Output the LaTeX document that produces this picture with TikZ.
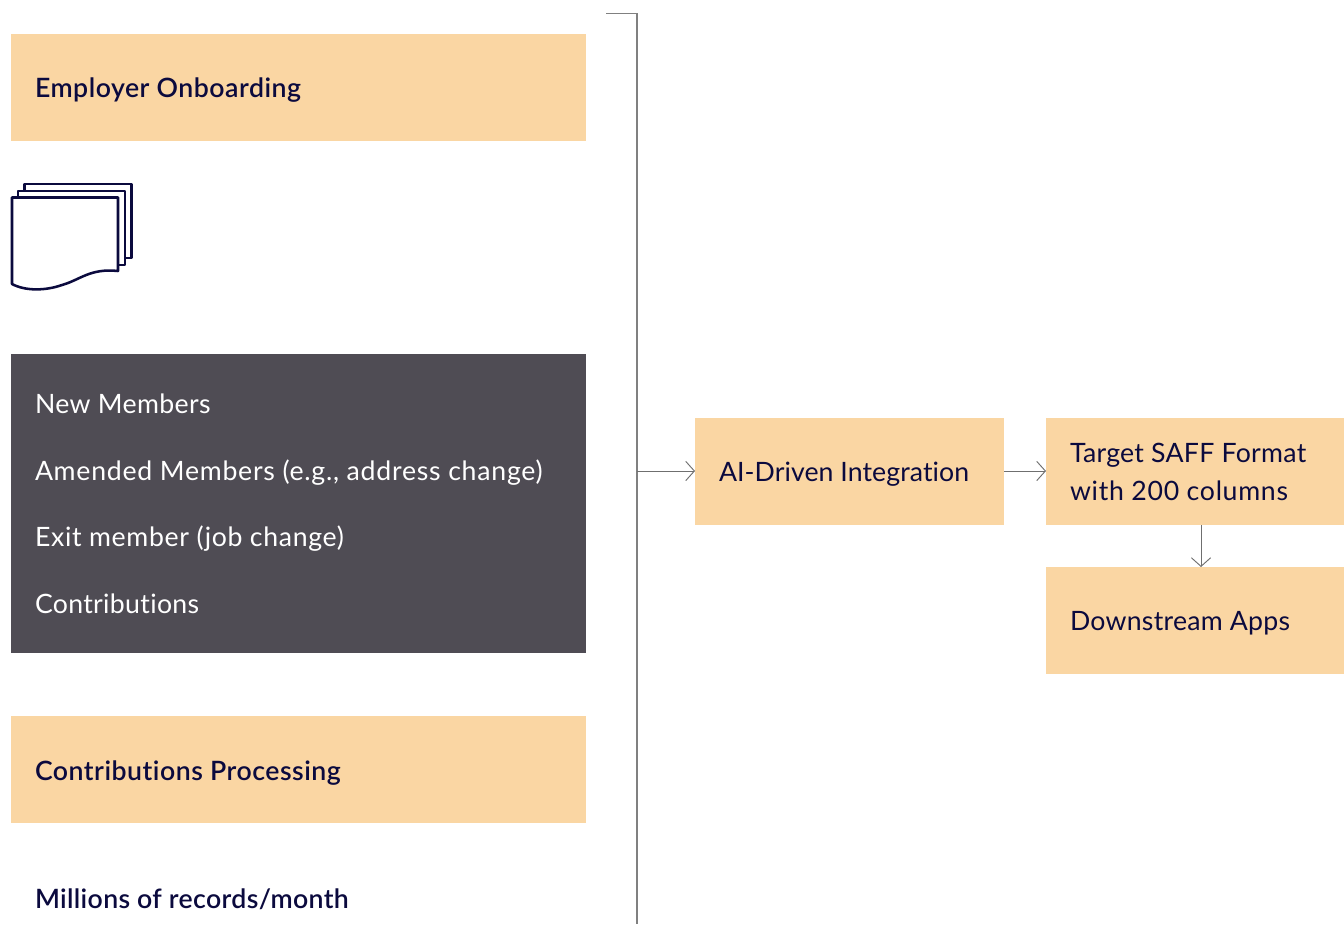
\documentclass[tikz,border=0pt]{standalone}
\usepackage{fontspec}
\setmainfont{Lato}[Ligatures=CommonOff]
\newfontfamily\semifont{Lato Semibold}[Ligatures=CommonOff]
\newcommand{\spaced}[1]{\addfontfeature{LetterSpace=#1}}
\usetikzlibrary{arrows.meta}
\definecolor{peach}{HTML}{FAD6A3}
\definecolor{slate}{HTML}{4F4C54}
\definecolor{ink}{HTML}{0B0A3E}
\definecolor{wire}{HTML}{6F6F6F}
\definecolor{buswire}{HTML}{808080}
\tikzset{
  x=0.75pt,y=-0.75pt,
  box/.style={fill=peach,draw=none,inner sep=0,outer sep=0,minimum width=#1,anchor=north west},
  box/.default=431.25pt,
  lbl/.style={anchor=base west,inner sep=0,outer sep=0,text=ink,font=\fontsize{20}{24}\selectfont\spaced{#1}},
  lbl/.default=1,
  bold/.style={anchor=base west,inner sep=0,outer sep=0,text=ink,font=\fontsize{20}{24}\selectfont\semifont\spaced{#1}},
  lite/.style={anchor=base west,inner sep=0,outer sep=0,text=white,font=\fontsize{20}{24}\selectfont\spaced{#1}},
  link/.style={draw=wire,line width=0.7pt,-{Straight Barb[length=6.5pt,width=14.5pt,line width=0.7pt]}},
  bus/.style={draw=buswire,line width=1.3pt},
  sheet/.style={draw=ink,line width=1.9pt,line join=round,fill=white}
}
\begin{document}
\begin{tikzpicture}
\useasboundingbox (0,0) rectangle (1344,924);
\fill[white] (0,0) rectangle (1344,924);
\node[box,minimum height=80.25pt] (onboard) at (11,34) {};
\node[bold=1.9] (onboardT) at (35,97) {Employer Onboarding};
\draw[sheet] (24.5,190) -- (24.5,184) -- (131.5,184) -- (131.5,258) -- (125,258);
\draw[sheet] (18,197) -- (18,191) -- (125,191) -- (125,265) -- (118,265);
\draw[sheet] (12,197.5) -- (118,197.5) -- (118,271) .. controls (90,268) and (80,280) .. (62,285) .. controls (45,291) and (25,291) .. (12,284) -- cycle;
\node[box,fill=slate,minimum height=224.25pt] (types) at (11,354) {};
\node[lite=1.4] (t1) at (35,413) {New Members};
\node[lite=2.8] (t2) at (35,480) {Amended Members (e.g., address change)};
\node[lite=2.45] (t3) at (35,546) {Exit member (job change)};
\node[lite=1.2] (t4) at (35,613) {Contributions};
\node[box,minimum height=80.25pt] (contrib) at (11,716) {};
\node[bold=1.9] (contribT) at (35,780) {Contributions Processing};
\node[bold=1.3] (millions) at (35,908) {Millions of records/month};
\coordinate (busTop) at (606,13.5);
\coordinate (busCorner) at (637,13.5);
\coordinate (busEnd) at (637,924);
\draw[bus] (busTop) -- (busCorner) -- (busEnd);
\node[box=231.75pt,minimum height=80.25pt] (ai) at (695,418) {};
\node[lbl=0.3] (aiT) at (719,481) {AI-Driven Integration};
\node[box=223.5pt,minimum height=80.25pt] (saff) at (1046,418) {};
\node[lbl=1.1] (saffA) at (1070,462) {Target SAFF Format};
\node[lbl=2.6] (saffB) at (1070,500) {with 200 columns};
\node[box=223.5pt,minimum height=80.25pt] (apps) at (1046,567) {};
\node[lbl=1] (appsT) at (1070,630) {Downstream Apps};
\coordinate (busTap) at (637,471);
\draw[link] (busTap) -- (ai.west |- busTap);
\draw[link] (ai.east |- busTap) -- (saff.west |- busTap);
\draw[link] (1201,525) -- (1201,567);
\end{tikzpicture}
\end{document}
